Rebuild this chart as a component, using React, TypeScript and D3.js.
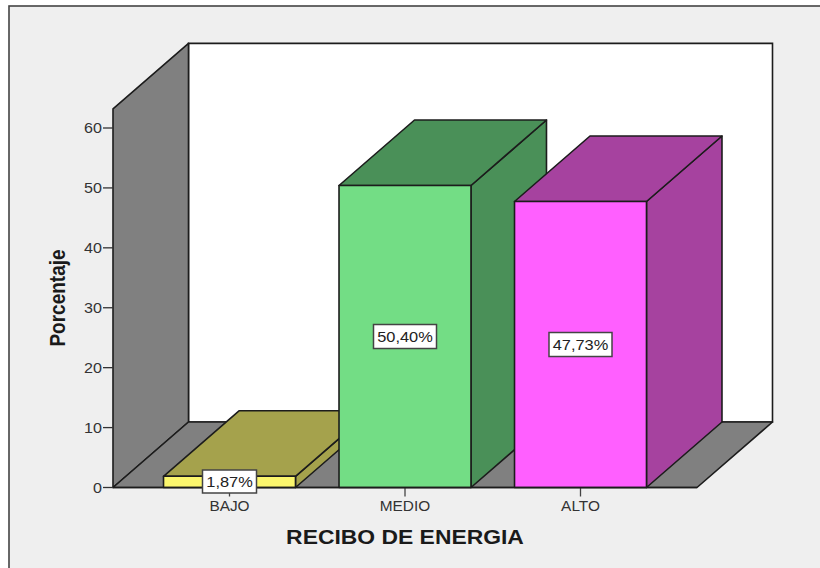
import React from "react";
import * as d3 from "d3";

// Share of households by energy bill level
const categories = ["BAJO", "MEDIO", "ALTO"];
const percentages = [1.87, 50.4, 47.73];
const valueLabels = ["1,87%", "50,40%", "47,73%"];
const yTicks = [0, 10, 20, 30, 40, 50, 60];
const frontColors = ["#fbf66d", "#73dd85", "#ff5fff"];
const topColors = ["#a5a24c", "#4a9058", "#a6429f"];
const sideColors = ["#a5a24c", "#4a9058", "#a6429f"];

const WIDTH = 820;
const HEIGHT = 568;
const DEPTH_X = 75.5;
const DEPTH_Y = -65.5;
const AXIS_MAX = 63.2;
const FONT = "'Liberation Sans', Arial, sans-serif";
const STROKE = "#1c1c1c";
// All lettering is slightly widened along the page's x direction
const TEXT_STRETCH = 1.15;

const y = d3.scaleLinear().domain([0, 60]).range([487.5, 128]);
const x = d3
  .scaleBand<string>()
  .domain(categories)
  .range([141.75, 668.25])
  .paddingInner(0.248)
  .paddingOuter(0.124);

const FLOOR_LEFT = 113;
const FLOOR_RIGHT = 697;

const poly = (pts: [number, number][]) => (d3.line()(pts) as string) + "Z";

function Label(props: {
  x: number;
  y: number;
  size: number;
  anchor?: "start" | "middle" | "end";
  bold?: boolean;
  fill?: string;
  stretch?: number;
  rotate?: number;
  children: React.ReactNode;
}) {
  const { stretch = TEXT_STRETCH, rotate = 0 } = props;
  return (
    <text
      transform={`translate(${props.x},${props.y}) scale(${stretch},1) rotate(${rotate})`}
      textAnchor={props.anchor ?? "middle"}
      fontFamily={FONT}
      fontSize={props.size}
      fontWeight={props.bold ? "bold" : "normal"}
      fill={props.fill ?? "#333333"}
    >
      {props.children}
    </text>
  );
}

// Front, top and side faces of one extruded bar
function Bar({ index }: { index: number }) {
  const cat = categories[index];
  const x0 = x(cat) as number;
  const x1 = x0 + x.bandwidth();
  const yb = y(0);
  const yt = y(percentages[index]);
  const top = poly([
    [x0, yt],
    [x0 + DEPTH_X, yt + DEPTH_Y],
    [x1 + DEPTH_X, yt + DEPTH_Y],
    [x1, yt],
  ]);
  const side = poly([
    [x1, yt],
    [x1 + DEPTH_X, yt + DEPTH_Y],
    [x1 + DEPTH_X, yb + DEPTH_Y],
    [x1, yb],
  ]);
  const front = poly([
    [x0, yb],
    [x0, yt],
    [x1, yt],
    [x1, yb],
  ]);
  return (
    <g stroke={STROKE} strokeWidth={1.6} strokeLinejoin="round">
      <path d={side} fill={sideColors[index]} />
      <path d={top} fill={topColors[index]} />
      <path d={front} fill={frontColors[index]} />
    </g>
  );
}

// White value tag placed at the middle of a bar's front face
function ValueTag({ index }: { index: number }) {
  const cat = categories[index];
  const cx = (x(cat) as number) + x.bandwidth() / 2;
  const cy = index === 0 ? 481.5 : y(percentages[index] / 2);
  const w = index === 0 ? 54 : 63;
  const h = index === 0 ? 23 : 24;
  return (
    <g>
      <rect
        x={cx - w / 2}
        y={cy - h / 2}
        width={w}
        height={h}
        fill="#ffffff"
        stroke="#444444"
        strokeWidth={1.5}
      />
      <Label x={cx} y={cy + 5.5} size={14.5} fill="#222222" stretch={1.13}>
        {valueLabels[index]}
      </Label>
    </g>
  );
}

export default function App() {
  const yb = y(0);
  const wallTop = y(AXIS_MAX);
  return (
    <svg
      width={WIDTH}
      height={HEIGHT}
      viewBox={`0 0 ${WIDTH} ${HEIGHT}`}
      style={{ position: "absolute", left: 0, top: 0, display: "block" }}
    >
      <rect width={WIDTH} height={HEIGHT} fill="#ffffff" />
      <rect x={9} y={6} width={WIDTH} height={HEIGHT} fill="#efefef" stroke="#444444" strokeWidth={1.6} />

      {/* Back wall */}
      <path
        d={poly([
          [FLOOR_LEFT + DEPTH_X, wallTop + DEPTH_Y],
          [FLOOR_RIGHT + DEPTH_X, wallTop + DEPTH_Y],
          [FLOOR_RIGHT + DEPTH_X, yb + DEPTH_Y],
          [FLOOR_LEFT + DEPTH_X, yb + DEPTH_Y],
        ])}
        fill="#ffffff"
        stroke={STROKE}
        strokeWidth={1.6}
      />
      {/* Side wall */}
      <path
        d={poly([
          [FLOOR_LEFT, yb],
          [FLOOR_LEFT, wallTop],
          [FLOOR_LEFT + DEPTH_X, wallTop + DEPTH_Y],
          [FLOOR_LEFT + DEPTH_X, yb + DEPTH_Y],
        ])}
        fill="#808080"
        stroke={STROKE}
        strokeWidth={1.6}
        strokeLinejoin="round"
      />
      {/* Floor */}
      <path
        d={poly([
          [FLOOR_LEFT, yb],
          [FLOOR_LEFT + DEPTH_X, yb + DEPTH_Y],
          [FLOOR_RIGHT + DEPTH_X, yb + DEPTH_Y],
          [FLOOR_RIGHT, yb],
        ])}
        fill="#808080"
        stroke={STROKE}
        strokeWidth={1.6}
        strokeLinejoin="round"
      />

      {/* Value axis */}
      {yTicks.map((t) => (
        <g key={t}>
          <line x1={103} x2={FLOOR_LEFT} y1={y(t)} y2={y(t)} stroke="#333333" strokeWidth={1.3} />
          <Label x={102} y={y(t) + 5} size={14} anchor="end">
            {t}
          </Label>
        </g>
      ))}

      {/* Category axis ticks and labels */}
      {categories.map((c) => {
        const cx = (x(c) as number) + x.bandwidth() / 2;
        return (
          <g key={c}>
            <line x1={cx} x2={cx} y1={yb} y2={yb + 9} stroke="#444444" strokeWidth={1.3} />
            <Label x={cx} y={511} size={14} stretch={1.1}>
              {c}
            </Label>
          </g>
        );
      })}

      {categories.map((c, i) => (
        <Bar key={c} index={i} />
      ))}

      <line x1={FLOOR_LEFT} x2={FLOOR_RIGHT} y1={yb} y2={yb} stroke={STROKE} strokeWidth={1.6} />

      {categories.map((c, i) => (
        <ValueTag key={c} index={i} />
      ))}

      <Label x={405} y={543.5} size={20} bold fill="#1a1a1a" stretch={1.145}>
        RECIBO DE ENERGIA
      </Label>
      <Label x={65} y={298} size={19} bold fill="#1a1a1a" rotate={-90} stretch={1.16}>
        Porcentaje
      </Label>
    </svg>
  );
}
